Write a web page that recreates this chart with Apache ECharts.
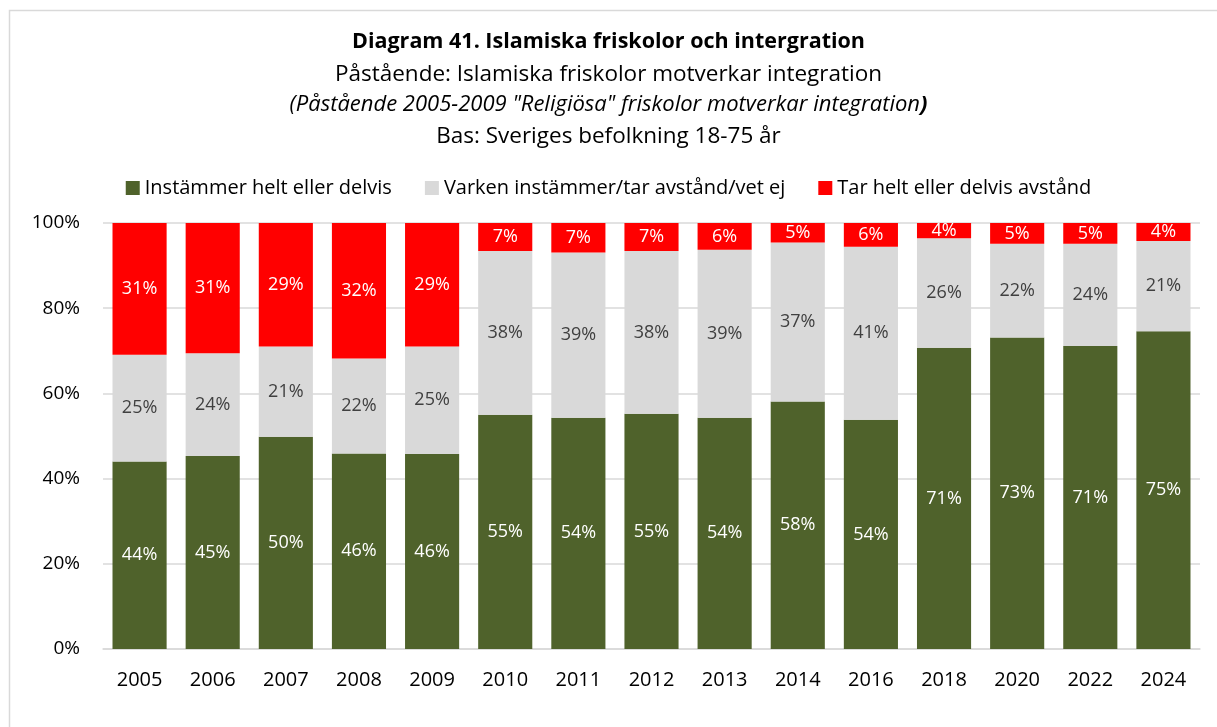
<!DOCTYPE html>
<html>
<head>
<meta charset="utf-8">
<script src="https://cdn.jsdelivr.net/npm/echarts@6/dist/echarts.min.js"></script>
<style>
  html, body { margin: 0; padding: 0; background: #fff; }
  #chart { width: 1217px; height: 727px; }
</style>
</head>
<body>
<div id="chart"></div>
<script>
// Survey years
const years = ['2005', '2006', '2007', '2008', '2009', '2010', '2011', '2012', '2013', '2014', '2016', '2018', '2020', '2022', '2024'];

// Share of respondents (%), per answer group
const agree   = [44.0, 45.3, 49.8, 45.9, 45.8, 55.0, 54.3, 55.2, 54.3, 58.1, 53.8, 70.7, 73.1, 71.1, 74.6];
const neutral = [25.1, 24.1, 21.2, 22.3, 25.2, 38.4, 38.8, 38.2, 39.4, 37.3, 40.6, 25.7, 22.0, 24.0, 21.2];
const oppose  = [30.9, 30.6, 29.0, 31.8, 29.0,  6.6,  6.9,  6.6,  6.3,  4.6,  5.6,  3.6,  4.9,  4.9,  4.2];

const seriesNames = ['Instämmer helt eller delvis', 'Varken instämmer/tar avstånd/vet ej', 'Tar helt eller delvis avstånd'];
const yTicks = [0, 20, 40, 60, 80, 100];

const FONT = 'Open Sans';
const chart = echarts.init(document.getElementById('chart'), null, { renderer: 'canvas' });

function barSeries(name, data, color, labelColor) {
  return {
    name: name,
    type: 'bar',
    stack: 'total',
    data: data,
    barCategoryGap: '26%',
    itemStyle: { color: color },
    label: {
      show: true,
      position: 'inside',
      color: labelColor,
      fontFamily: FONT,
      fontSize: 18,
      formatter: p => Math.round(p.value) + '%'
    },
    emphasis: { disabled: true }
  };
}

chart.setOption({
  animation: false,
  backgroundColor: '#fff',
  textStyle: { fontFamily: FONT },
  graphic: [{
    type: 'rect',
    shape: { x: 9.5, y: 10.5, width: 1230, height: 740 },
    style: { fill: 'none', stroke: '#d9d9d9', lineWidth: 1.5 },
    silent: true
  }],
  title: [
    { text: 'Diagram 41. Islamiska friskolor och intergration', left: 'center', top: 26,
      textStyle: { fontFamily: FONT, fontWeight: 'bold', fontSize: 21.5, color: '#000' } },
    { text: 'Påstående: Islamiska friskolor motverkar integration', left: 'center', top: 58,
      textStyle: { fontFamily: FONT, fontWeight: 'normal', fontSize: 22.5, color: '#000' } },
    { text: '{i|(Påstående 2005-2009 "Religiösa" friskolor motverkar integration}{b|)}', left: 'center', top: 89,
      textStyle: { fontWeight: 'normal', rich: {
        i: { fontFamily: FONT, fontStyle: 'italic', fontWeight: 'normal', fontSize: 22, color: '#000' },
        b: { fontFamily: FONT, fontStyle: 'italic', fontWeight: 'bold', fontSize: 22, color: '#000' }
      } } },
    { text: 'Bas: Sveriges befolkning 18-75 år', left: 'center', top: 120,
      textStyle: { fontFamily: FONT, fontWeight: 'normal', fontSize: 22.5, color: '#000' } }
  ],
  legend: {
    top: 173,
    left: 'center',
    itemWidth: 14,
    itemHeight: 14,
    itemGap: 33,
    icon: 'rect',
    textStyle: { fontFamily: FONT, fontSize: 20, color: '#000' },
    data: seriesNames
  },
  grid: { left: 103, right: 17, top: 223, bottom: 78, containLabel: false },
  xAxis: {
    type: 'category',
    data: years,
    axisLine: { lineStyle: { color: '#d9d9d9', width: 1.5 } },
    axisTick: { show: false },
    axisLabel: { color: '#000', fontFamily: FONT, fontSize: 20, margin: 21 }
  },
  yAxis: {
    type: 'value',
    min: yTicks[0],
    max: yTicks[yTicks.length - 1],
    interval: 20,
    axisLine: { show: false },
    axisTick: { show: false },
    splitLine: { lineStyle: { color: '#d9d9d9', width: 1.5 } },
    axisLabel: { color: '#000', fontFamily: FONT, fontSize: 19, margin: 23, formatter: v => v + '%' }
  },
  series: [
    barSeries(seriesNames[0], agree, '#4f622b', '#ffffff'),
    barSeries(seriesNames[1], neutral, '#d9d9d9', '#404040'),
    barSeries(seriesNames[2], oppose, '#ff0000', '#ffffff')
  ]
});
</script>
</body>
</html>
